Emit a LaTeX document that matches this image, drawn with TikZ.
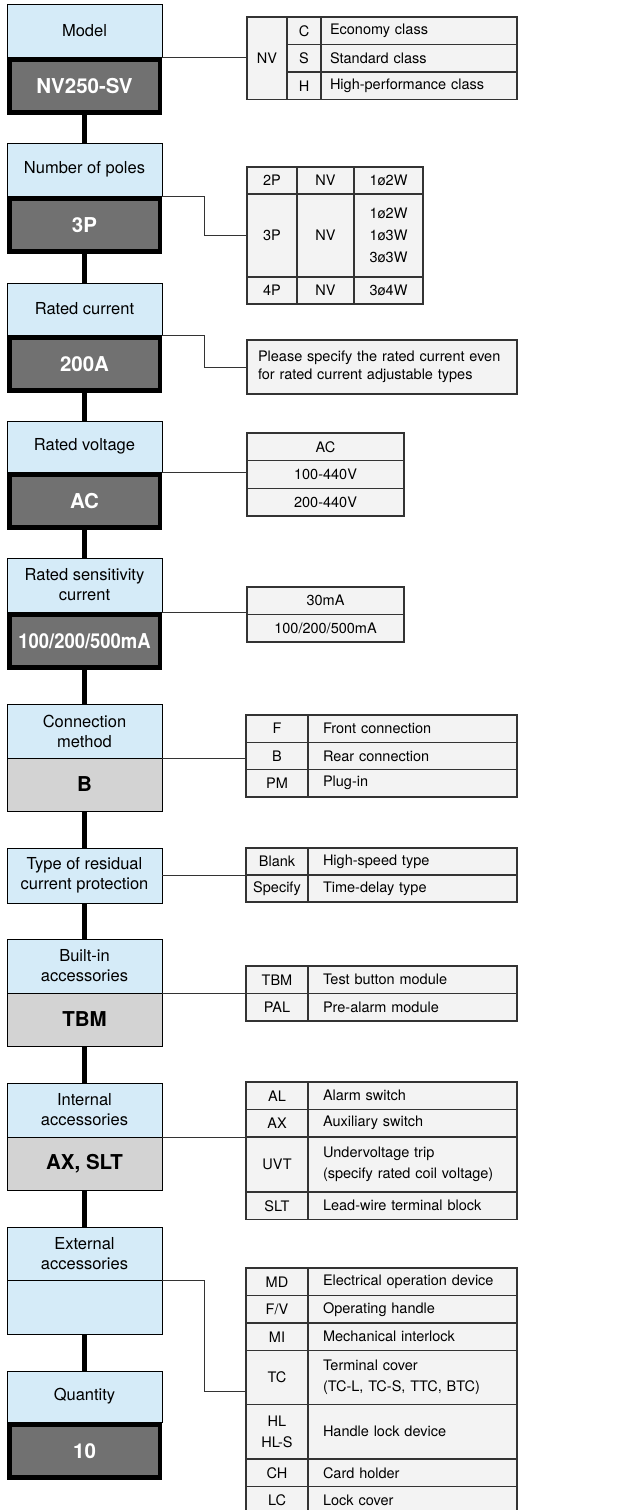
\documentclass[tikz,border=0pt]{standalone}
\usepackage{fontspec}
\setmainfont{TeX Gyre Heros}
\usetikzlibrary{positioning,calc}
\definecolor{headblue}{HTML}{D5EBF8}
\definecolor{valdark}{HTML}{717171}
\definecolor{valgray}{HTML}{D3D3D3}
\definecolor{cellgray}{HTML}{F3F3F3}
\definecolor{ink}{HTML}{333333}
\tikzset{
  every node/.style={text=black},
  head/.style={draw=black,line width=0.9pt,fill=headblue,anchor=north,outer sep=0pt,minimum width=155pt,minimum height=53pt,inner sep=2pt,align=center,font=\fontsize{16.5}{20}\selectfont},
  darkval/.style={draw=black,line width=4.5pt,fill=valdark,minimum width=150.5pt,minimum height=53pt,inner sep=0pt,text=white,font=\fontsize{20.5}{24}\selectfont\bfseries},
  grayval/.style={draw=black,line width=0.9pt,fill=valgray,outer sep=0pt,minimum width=155pt,minimum height=53pt,inner sep=0pt,font=\fontsize{20.5}{24}\selectfont\bfseries},
  blankval/.style={grayval,fill=headblue},
  cell/.style={draw=ink,line width=1.2pt,fill=cellgray,anchor=north west,outer sep=0pt,inner sep=0pt,minimum height=27.5pt,align=center,font=\fontsize{14.5}{21}\selectfont},
  code/.style={cell,minimum width=#1},
  desc/.style={cell,align=left,inner xsep=15pt,text width=#1},
  spine/.style={line width=4.5pt,draw=black},
  link/.style={line width=1pt,draw=ink},
}
\begin{document}
\begin{tikzpicture}[x=1pt,y=-1pt]
\useasboundingbox (0,0) rectangle (637,1510);
% left column
\node[head] (model) at (84.5,4) {Model};
\node[darkval,below=0pt of model] (modelv) {NV250-SV};
\node[head] (poles) at (84.5,143) {Number of poles};
\node[darkval,below=0pt of poles] (polesv) {3P};
\node[head,minimum height=52pt] (cur) at (84.5,283) {Rated current};
\node[darkval,below=0pt of cur] (curv) {200A};
\node[head,minimum height=51pt] (volt) at (84.5,421) {Rated voltage};
\node[darkval,below=0pt of volt] (voltv) {AC};
\node[head,minimum height=54pt] (sens) at (84.5,558) {Rated sensitivity\\current};
\node[darkval,below=0pt of sens] (sensv) {\scalebox{0.9}[1]{100/200/500mA}};
\node[head,minimum height=54pt] (conn) at (84.5,704) {Connection\\method};
\node[grayval,below=0pt of conn] (connv) {B};
\node[head,minimum height=55pt] (resid) at (84.5,848) {Type of residual\\current protection};
\node[head,minimum height=54pt] (built) at (84.5,939) {Built-in\\accessories};
\node[grayval,below=0pt of built] (builtv) {TBM};
\node[head,minimum height=54pt] (intern) at (84.5,1083) {Internal\\accessories};
\node[grayval,below=0pt of intern] (internv) {AX, SLT};
\node[head] (extern) at (84.5,1227) {External\\accessories};
\node[blankval,minimum height=54pt,below=0pt of extern] (externv) {};
\node[head,minimum height=51pt] (qty) at (84.5,1371) {Quantity};
\node[darkval,below=0pt of qty] (qtyv) {10};
\draw[spine] (modelv) -- (poles);
\draw[spine] (polesv) -- (cur);
\draw[spine] (curv) -- (volt);
\draw[spine] (voltv) -- (sens);
\draw[spine] (sensv) -- (conn);
\draw[spine] (connv) -- (resid);
\draw[spine] (resid) -- (built);
\draw[spine] (builtv) -- (intern);
\draw[spine] (internv) -- (extern);
\draw[spine] (externv) -- (qty);
% model table
\node[code=40pt,minimum height=82.5pt] (nv) at (247,17) {NV};
\node[code=34pt] (nvc) at (287,17) {C};
\node[code=34pt] (nvs) at (287,44.5) {S};
\node[code=34pt] (nvh) at (287,72) {H};
\node[desc=178pt,inner xsep=9pt] (nvcd) at (321,17) {Economy class};
\node[desc=178pt,inner xsep=9pt] (nvsd) at (321,44.5) {Standard class};
\node[desc=178pt,inner xsep=9pt] (nvhd) at (321,72) {High-performance class};
% poles table
\node[code=50pt,minimum height=27pt] (p2) at (247,167) {2P};
\node[code=57pt,minimum height=27pt] (p2nv) at (297,167) {NV};
\node[code=69pt,minimum height=27pt] (p2w) at (354,167) {1ø2W};
\node[code=50pt,minimum height=83pt] (p3) at (247,194) {3P};
\node[code=57pt,minimum height=83pt] (p3nv) at (297,194) {NV};
\node[code=69pt,minimum height=83pt,font=\fontsize{14.5}{21.7}\selectfont] (p3w) at (354,194) {1ø2W\\1ø3W\\3ø3W};
\node[code=50pt,minimum height=27pt] (p4) at (247,277) {4P};
\node[code=57pt,minimum height=27pt] (p4nv) at (297,277) {NV};
\node[code=69pt,minimum height=27pt] (p4w) at (354,277) {3ø4W};
% rated current note
\node[cell,align=left,text width=248pt,inner xsep=11pt,minimum height=54pt,font=\fontsize{14.5}{18}\selectfont] (note) at (247,340) {Please specify the rated current even\\for rated current adjustable types};
% voltage table
\node[code=157pt,minimum height=27.7pt] (vac) at (247,433) {AC};
\node[code=157pt,minimum height=27.7pt] (v100) at (247,460.7) {100-440V};
\node[code=157pt,minimum height=27.7pt] (v200) at (247,488.3) {200-440V};
% sensitivity table
\node[code=157pt] (s30) at (247,587) {30mA};
\node[code=157pt] (s100) at (247,614.5) {100/200/500mA};
% connection table
\node[code=62pt,minimum height=27.3pt] (cf) at (246,715) {F};
\node[code=62pt,minimum height=27.3pt] (cb) at (246,742.3) {B};
\node[code=62pt,minimum height=27.3pt] (cpm) at (246,769.6) {PM};
\node[desc=179pt,minimum height=27.3pt] (cfd) at (308,715) {Front connection};
\node[desc=179pt,minimum height=27.3pt] (cbd) at (308,742.3) {Rear connection};
\node[desc=179pt,minimum height=27.3pt] (cpmd) at (308,769.6) {Plug-in};
% residual protection table
\node[code=62pt,minimum height=27pt] (rb) at (246,848) {Blank};
\node[code=62pt,minimum height=27pt] (rs) at (246,875) {Specify};
\node[desc=179pt,minimum height=27pt] (rbd) at (308,848) {High-speed type};
\node[desc=179pt,minimum height=27pt] (rsd) at (308,875) {Time-delay type};
% built-in table
\node[code=62pt] (tbm) at (246,966) {TBM};
\node[code=62pt] (pal) at (246,993.5) {PAL};
\node[desc=179pt] (tbmd) at (308,966) {Test button module};
\node[desc=179pt] (pald) at (308,993.5) {Pre-alarm module};
% internal table
\node[code=62pt] (al) at (246,1082) {AL};
\node[code=62pt] (ax) at (246,1109.5) {AX};
\node[code=62pt,minimum height=55pt] (uvt) at (246,1137) {UVT};
\node[code=62pt] (slt) at (246,1192) {SLT};
\node[desc=179pt] (ald) at (308,1082) {Alarm switch};
\node[desc=179pt] (axd) at (308,1109.5) {Auxiliary switch};
\node[desc=179pt,minimum height=55pt] (uvtd) at (308,1137) {Undervoltage trip\\(specify rated coil voltage)};
\node[desc=179pt] (sltd) at (308,1192) {Lead-wire terminal block};
% external table
\node[code=62pt] (md) at (246,1268) {MD};
\node[code=62pt] (fv) at (246,1295.5) {F/V};
\node[code=62pt] (mi) at (246,1323) {MI};
\node[code=62pt,minimum height=54pt] (tc) at (246,1350.5) {TC};
\node[code=62pt,minimum height=54.5pt] (hl) at (246,1404.5) {HL\\HL-S};
\node[code=62pt] (ch) at (246,1459) {CH};
\node[code=62pt] (lc) at (246,1486.5) {LC};
\node[desc=179pt] (mdd) at (308,1268) {Electrical operation device};
\node[desc=179pt] (fvd) at (308,1295.5) {Operating handle};
\node[desc=179pt] (mid) at (308,1323) {Mechanical interlock};
\node[desc=179pt,minimum height=54pt] (tcd) at (308,1350.5) {Terminal cover\\(TC-L, TC-S, TTC, BTC)};
\node[desc=179pt,minimum height=54.5pt] (hld) at (308,1404.5) {Handle lock device};
\node[desc=179pt] (chd) at (308,1459) {Card holder};
\node[desc=179pt] (lcd) at (308,1486.5) {Lock cover};
% links to tables
\draw[link] (model.south east) -- (model.south east -| nv.west);
\draw[link] (poles.south east) -- ++(42,0) |- (p3.west);
\draw[link] (cur.south east) -- ++(42,0) |- (note.west);
\draw[link] (volt.south east) -- (volt.south east -| vac.west);
\draw[link] (sens.south east) -- (sens.south east -| s30.west);
\draw[link] (conn.south east) -- (conn.south east -| cf.west);
\draw[link] (resid.east) -- (resid.east -| rb.west);
\draw[link] (built.south east) -- (built.south east -| tbm.west);
\draw[link] (intern.south east) -- (intern.south east -| al.west);
\draw[link] (extern.south east) -- ++(42,0) |- ($(tc.west)+(0,14)$);
\end{tikzpicture}
\end{document}
